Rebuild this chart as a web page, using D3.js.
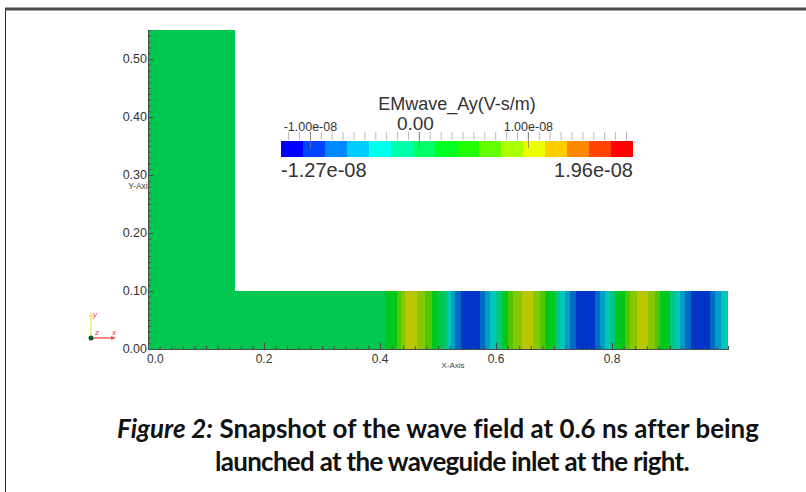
<!DOCTYPE html>
<html>
<head>
<meta charset="utf-8">
<script src="https://cdn.jsdelivr.net/npm/d3@7"></script>
<style>
  body { margin: 0; background: #fff; }
  svg { display: block; }
  text { font-family: "Liberation Sans", Arial, sans-serif; }
</style>
</head>
<body>
<div id="chart"></div>
<script>
/**
 * DATA
 * */
// L-shaped waveguide outline, in axis units
const outlineX = [0, 1, 1, 0.15, 0.15, 0];
const outlineY = [0, 0, 0.1, 0.1, 0.55, 0.55];

// stripes of the wave field along the lower arm (edges in x, one value per stripe, V-s/m)
const stripeEdges = [0.409, 0.429, 0.436, 0.443, 0.464, 0.478, 0.490, 0.500, 0.512, 0.517,
  0.522, 0.529, 0.540, 0.572, 0.581, 0.590, 0.600, 0.610, 0.621, 0.629, 0.645, 0.664,
  0.676, 0.684, 0.702, 0.710, 0.719, 0.728, 0.738, 0.771, 0.779, 0.788, 0.797, 0.805,
  0.822, 0.831, 0.843, 0.862, 0.874, 0.883, 0.900, 0.909, 0.917, 0.926, 0.936, 0.969,
  0.978, 0.988, 1.0];
const stripeValues = [0.24e-8, 0.65e-8, 0.85e-8, 1.05e-8, 0.85e-8, 0.65e-8, 0.24e-8, 0.04e-8,
  -0.16e-8, -0.36e-8, -0.56e-8, -0.77e-8, -0.97e-8, -0.77e-8, -0.56e-8, -0.36e-8,
  -0.16e-8, 0.24e-8, 0.65e-8, 0.85e-8, 1.05e-8, 0.85e-8, 0.65e-8, 0.24e-8,
  -0.16e-8, -0.36e-8, -0.56e-8, -0.77e-8, -0.97e-8, -0.77e-8, -0.56e-8, -0.36e-8,
  -0.16e-8, 0.24e-8, 0.65e-8, 0.85e-8, 1.05e-8, 0.85e-8, 0.65e-8, 0.24e-8,
  -0.16e-8, -0.36e-8, -0.56e-8, -0.77e-8, -0.97e-8, -0.77e-8, -0.56e-8, -0.36e-8];
const baseValue = 0;

// colour legend
const legendTitle = "EMwave_Ay(V-s/m)";
const legendRange = [-1.27e-8, 1.96e-8];
const legendColors = ["#0000ff", "#0044ff", "#0088ff", "#00ccff", "#00ffee", "#00ffaa",
  "#00ff66", "#00ff22", "#22ff00", "#66ff00", "#aaff00", "#eeff00",
  "#ffcc00", "#ff8800", "#ff4400", "#ff0000"];
const legendMajor = [-1e-8, 0, 1e-8];

// axes
const xTickValues = [0, 0.2, 0.4, 0.6, 0.8];
const yTickValues = [0, 0.1, 0.2, 0.3, 0.4, 0.5];

const captionLines = [
  [["Figure 2:", true], [" Snapshot of the wave field at 0.6 ns after being", false]],
  [["launched at the waveguide inlet at the right.", false]]
];

/**
 * SETUP
 * */
const width = 806, height = 492;
const shadeFactor = 0.78; // lighting of the rendered surface

const svg = d3.select("#chart").append("svg")
  .attr("width", width)
  .attr("height", height);

const xScale = d3.scaleLinear().domain([0, 1]).range([148, 728]);
const yScale = d3.scaleLinear().domain([0, 0.55]).range([349, 30]);
const colorScale = d3.scaleQuantize().domain(legendRange).range(legendColors);
const shade = v => {
  const c = d3.rgb(colorScale(v));
  return d3.rgb(c.r * shadeFactor, c.g * shadeFactor, c.b * shadeFactor).formatHex();
};

// frame of the page
svg.append("line").attr("x1", 5).attr("x2", width).attr("y1", 9).attr("y2", 9)
  .attr("stroke", "#4d4d4d").attr("stroke-width", 3);
svg.append("line").attr("x1", 5.5).attr("x2", 5.5).attr("y1", 8).attr("y2", height)
  .attr("stroke", "#333").attr("stroke-width", 1);

// y axis title sits under the geometry, so its tail is hidden
svg.append("text")
  .attr("x", 152).attr("y", 189)
  .attr("text-anchor", "end")
  .attr("font-size", 8.5)
  .attr("fill", "#444")
  .text("Y-Axis");

/**
 * GEOMETRY
 * */
const outline = outlineX.map((x, i) => [xScale(x), yScale(outlineY[i])]);
svg.append("path")
  .attr("d", d3.line()(outline) + "Z")
  .attr("fill", shade(baseValue));

svg.append("g")
  .selectAll("rect")
  .data(stripeValues)
  .join("rect")
  .attr("x", (d, i) => xScale(stripeEdges[i]))
  .attr("width", (d, i) => xScale(stripeEdges[i + 1]) - xScale(stripeEdges[i]) + 0.3)
  .attr("y", yScale(0.1))
  .attr("height", yScale(0) - yScale(0.1))
  .attr("fill", d => shade(d))
  .attr("shape-rendering", "crispEdges");

/**
 * AXES
 * */
function styleAxis(g) {
  g.selectAll("path, line").attr("stroke", "#4a4a4a");
  g.selectAll("text").remove();
}

svg.append("g")
  .attr("transform", `translate(${xScale(0)},0)`)
  .call(d3.axisRight(yScale).tickValues(d3.range(0, 0.5501, 0.01)).tickSize(3).tickSizeOuter(0))
  .call(styleAxis);
svg.append("g")
  .attr("transform", `translate(${xScale(0)},0)`)
  .call(d3.axisRight(yScale).tickValues(yTickValues).tickSize(5).tickSizeOuter(0))
  .call(styleAxis);

svg.append("g")
  .attr("transform", `translate(0,${yScale(0)})`)
  .call(d3.axisTop(xScale).tickValues(d3.range(0, 1.0001, 0.02)).tickSize(3).tickSizeOuter(0))
  .call(styleAxis);
svg.append("g")
  .attr("transform", `translate(0,${yScale(0)})`)
  .call(d3.axisTop(xScale).tickValues(xTickValues).tickSize(6).tickSizeOuter(0))
  .call(styleAxis);

svg.append("g")
  .selectAll("text")
  .data(yTickValues)
  .join("text")
  .attr("x", xScale(0) - 1)
  .attr("y", d => yScale(d) + 4)
  .attr("text-anchor", "end")
  .attr("font-size", 12.5)
  .attr("fill", "#333")
  .text(d => d3.format(".2f")(d));

svg.append("g")
  .selectAll("text")
  .data(xTickValues)
  .join("text")
  .attr("x", d => d === 0 ? xScale(d) - 1 : xScale(d))
  .attr("y", 363)
  .attr("text-anchor", d => d === 0 ? "start" : "middle")
  .attr("font-size", 12)
  .attr("fill", "#333")
  .text(d => d3.format(".1f")(d));

svg.append("text")
  .attr("x", 453).attr("y", 368)
  .attr("text-anchor", "middle")
  .attr("font-size", 8)
  .attr("fill", "#444")
  .text("X-Axis");

// orientation triad
const triad = svg.append("g").attr("transform", "translate(91,338)");
triad.append("line").attr("x1", 0).attr("y1", 0).attr("x2", 0).attr("y2", -24)
  .attr("stroke", "#f0f070").attr("stroke-width", 1.5);
triad.append("line").attr("x1", 0).attr("y1", 0).attr("x2", 23).attr("y2", 0)
  .attr("stroke", "#f06060").attr("stroke-width", 1.5);
triad.append("path").attr("d", "M-2,-21L0,-26L2,-21Z").attr("fill", "#f0e060");
triad.append("path").attr("d", "M20,-2L25,0L20,2Z").attr("fill", "#f05050");
triad.append("circle").attr("r", 2.5).attr("fill", "#0a5a1a");
[["y", 2, -21], ["z", 4, -3], ["x", 21, -3]].forEach(([t, x, y]) => {
  triad.append("text").attr("x", x).attr("y", y)
    .attr("font-size", 8).attr("font-style", "italic").attr("fill", "#e04040").text(t);
});

/**
 * LEGEND
 * */
const legendX = d3.scaleLinear().domain(legendRange).range([281, 633]);
const legend = svg.append("g");

legend.selectAll("rect")
  .data(legendColors)
  .join("rect")
  .attr("x", d => legendX(colorScale.invertExtent(d)[0]))
  .attr("width", d => legendX(colorScale.invertExtent(d)[1]) - legendX(colorScale.invertExtent(d)[0]) + 0.3)
  .attr("y", 141)
  .attr("height", 16)
  .attr("fill", d => d)
  .attr("shape-rendering", "crispEdges");

legend.selectAll(".minor")
  .data(d3.range(-12, 20).map(k => k * 1e-9))
  .join("line")
  .attr("class", "minor")
  .attr("x1", d => legendX(d)).attr("x2", d => legendX(d))
  .attr("y1", 132).attr("y2", 140)
  .attr("stroke", "#aaa").attr("stroke-width", 0.8);

legend.selectAll(".major")
  .data(legendMajor)
  .join("line")
  .attr("class", "major")
  .attr("x1", d => legendX(d)).attr("x2", d => legendX(d))
  .attr("y1", 132).attr("y2", 148)
  .attr("stroke", "#777").attr("stroke-width", 0.8);

const sci = v => {
  if (v === 0) return "0.00";
  const [m, e] = d3.format(".2e")(Math.abs(v)).split("e");
  const n = +e;
  return (v < 0 ? "-" : "") + m + "e" + (n < 0 ? "-" : "+") + String(Math.abs(n)).padStart(2, "0");
};

legend.selectAll(".lab")
  .data(legendMajor)
  .join("text")
  .attr("class", "lab")
  .attr("x", d => legendX(d) - (d === 0 ? 4 : 0))
  .attr("y", d => d === 0 ? 130 : 131)
  .attr("text-anchor", "middle")
  .attr("font-size", d => d === 0 ? 19 : 12.5)
  .attr("fill", "#333")
  .text(sci);

legend.append("text")
  .attr("x", 457).attr("y", 110)
  .attr("text-anchor", "middle")
  .attr("font-size", 18)
  .attr("fill", "#333")
  .text(legendTitle);

legend.append("text")
  .attr("x", legendX(legendRange[0])).attr("y", 177)
  .attr("font-size", 20)
  .attr("fill", "#333")
  .text(sci(legendRange[0]));
legend.append("text")
  .attr("x", legendX(legendRange[1])).attr("y", 177)
  .attr("text-anchor", "end")
  .attr("font-size", 20)
  .attr("fill", "#333")
  .text(sci(legendRange[1]));

/**
 * CAPTION
 * */
const capCenters = [438, 452];
const capBaselines = [438, 471];
const capWidths = [641, 474];
const capNodes = captionLines.map((parts, i) => {
  const t = svg.append("text")
    .attr("y", capBaselines[i])
    .attr("text-anchor", "middle")
    .attr("x", capCenters[i])
    .attr("font-weight", "bold")
    .attr("fill", "#111")
    .style("font-family", "Lato, 'Open Sans', sans-serif")
    .attr("font-size", 24);
  parts.forEach(([s, it]) => {
    t.append("tspan").attr("font-style", it ? "italic" : "normal").text(s);
  });
  return t;
});
const fs = 24 * capWidths[0] / capNodes[0].node().getComputedTextLength();
capNodes.forEach((t, i) => {
  t.attr("font-size", fs);
  const w = t.node().getComputedTextLength();
  const n = t.text().length;
  t.attr("letter-spacing", (capWidths[i] - w) / n);
});
</script>
</body>
</html>
